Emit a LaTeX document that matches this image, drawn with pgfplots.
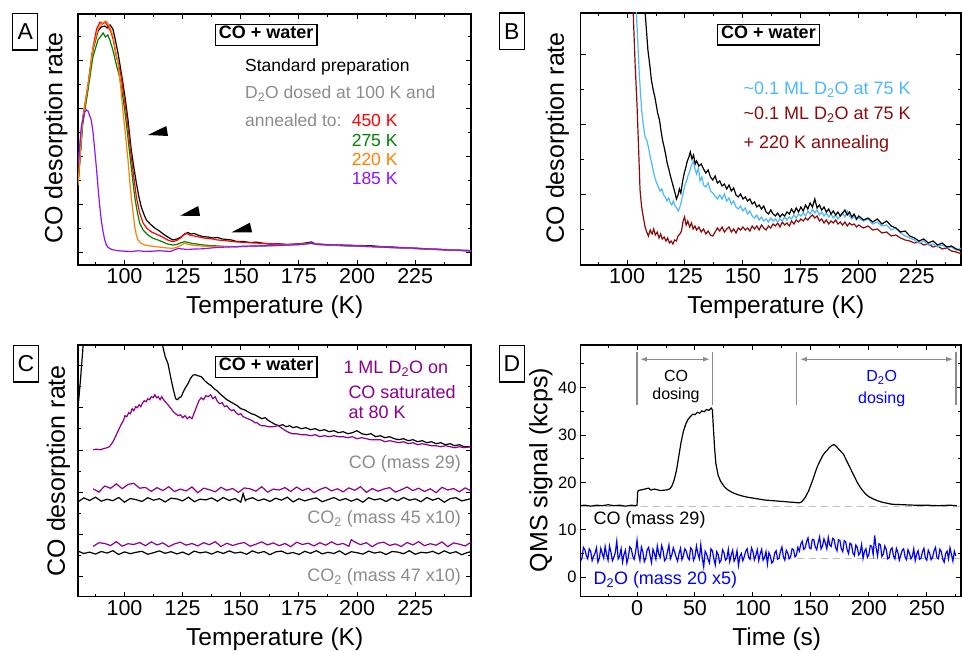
\documentclass[border=0pt]{standalone}
\usepackage{fontspec}
\setmainfont{Liberation Sans}
\usepackage{pgfplots}
\pgfplotsset{compat=1.18}
\usetikzlibrary{arrows.meta}
\definecolor{cgray}{RGB}{140,140,140}
\definecolor{cred}{RGB}{255,0,0}
\definecolor{cgreen}{RGB}{0,128,0}
\definecolor{corange}{RGB}{255,128,0}
\definecolor{cviolet}{RGB}{140,20,255}
\definecolor{clblue}{RGB}{77,184,255}
\definecolor{cdred}{RGB}{140,10,10}
\definecolor{cpurple}{RGB}{140,0,140}
\definecolor{cblue}{RGB}{0,0,255}
\definecolor{dashgray}{RGB}{190,190,190}
\newcommand{\fs}[1]{\fontsize{#1}{#1}\selectfont}
\pgfplotsset{
  panel/.style={
    scale only axis, anchor=south west,
    axis line style={line width=1.4pt},
    every tick/.style={line width=1pt, black},
    major tick length=5pt, minor tick length=3pt,
    tick align=inside,
    ticklabel style={font=\fs{21.5}},
    /pgf/number format/assume math mode=true,
    enlargelimits=false,
  },
  tpd/.style={xtick={100,125,...,225}, minor xtick={87.5,112.5,...,237.5}, yticklabels={}, ymin=0},
}
\tikzset{lab/.style={inner sep=0pt, font=\fs{17.5}},
  pbox/.style={draw, line width=1.3pt, inner sep=0pt, minimum width=25pt, minimum height=36.7pt, font=\fs{23}},
  wbox/.style={draw, line width=1.4pt, inner xsep=3.5pt, inner ysep=6.8pt, text height=0.72em, text depth=0pt, font=\bfseries\fs{18}},
  cl/.style={line width=1.2pt}}
\begin{document}
\begin{tikzpicture}[x=1pt,y=1pt]
\useasboundingbox (0,0) rectangle (962,651);
% ---------------- A ----------------
\begin{axis}[panel, tpd, at={(78pt,386pt)}, width=393pt, height=251pt,
  xmin=80, xmax=249, ymax=251,
  ytick={12,60,108,156,204}, minor ytick={36,84,132,180,228}]
\addplot[cl, black] coordinates {(80,82) (82,145) (84.3,178) (86.4,215) (88.6,234) (90,238) (91.5,239) (92.5,237) (93.8,240) (95,236) (95.8,228) (97.2,212) (98.2,198) (99.3,182) (100.4,165) (101.5,145) (102.2,130) (102.9,115) (104,98) (105.1,82) (106.2,68) (107.2,58) (108.3,51) (109.4,45) (111,41) (113,37) (115,34) (117.3,30) (119,27.5) (120.8,25) (122.5,26) (124.4,28) (125.8,31) (127.3,32.5) (128.5,31) (130,31.5) (131.5,30) (133.9,28.3) (136,28) (138,27) (140,27.5) (142,26) (144,25.5) (146,25) (148.2,23.5) (151,23.5) (154,22.5) (157,22.8) (160,21.5) (162.5,21) (166,21.2) (170,20.5) (174,21) (176.9,21.7) (180.4,23) (182,21) (186,20.5) (191.2,20) (196,19.8) (200,19.5) (205.5,19.3) (210,18.5) (215,18) (219.9,17.3) (225,16.8) (230,16.2) (234.2,15.7) (240,15) (245,14.6) (249,14.3)};
\addplot[cl, cred] coordinates {(80,80) (82,146) (84.3,180) (86.4,217) (88,236) (89.5,243) (90.5,241) (91.5,243) (92.5,240) (94,234) (95.1,226) (96.5,208) (97.5,200) (98.6,188) (99.7,170) (100.8,152) (101.9,130) (102.9,108) (104,88) (105.1,68) (106.5,52) (108,42) (109.5,37) (111.6,33) (113.5,31) (115.5,29) (117.3,26.7) (119,24.5) (120.8,23.3) (122.5,24.5) (124,27) (125.5,30) (126.6,31.7) (128,30) (130,29) (132,28) (134,27) (136,26.5) (138,26) (140,25) (143,24.5) (146,23.5) (149,23) (152,22.5) (156,22) (160,21.5) (165,21) (170,20.5) (175,21) (180,22) (185,20.5) (190,20) (195,19.5) (200,19) (205,18.8) (210,18) (215,17.5) (220,17) (225,16.5) (230,16) (235,15.5) (240,15) (245,14.5) (249,14)};
\addplot[cl, cgreen] coordinates {(80,80) (82,140) (84.3,175) (86.4,208) (88.6,225) (90.8,232) (91.8,228) (92.8,230) (93.7,225) (95,215) (96.5,200) (97.9,188) (99,172) (100.1,155) (101.2,133) (102.2,112) (103.3,90) (104.4,68) (105.5,53) (106.5,42) (108,35) (110.1,30) (112,27) (114.4,25) (116.5,23) (118.5,21) (120.8,20) (122.5,20.5) (124,22) (125.8,23.3) (127,22.7) (129,21.5) (131,21) (133.9,20) (137,19.5) (140,19) (144,18.5) (148.2,18.3) (152,18.5) (156,18.8) (160,19) (162.5,19.3) (166,19.5) (170,20) (174,20.5) (177,21) (180.4,22) (183,20.5) (187,20) (191,19.5) (196,19) (200,18.8) (205,18.5) (210,18) (215,17.5) (220,17) (225,16.5) (230,16) (235,15.5) (240,15) (245,14.6) (249,14.3)};
\addplot[cl, corange] coordinates {(80,80) (82,145) (84.3,180) (86.4,216) (88.6,236) (90.5,242) (92,244) (93,241) (94,236) (95.2,228) (96.2,214) (97.2,202) (98.3,180) (99.3,155) (100.4,130) (101.5,105) (102.2,86) (102.9,68) (103.7,52) (104.4,38) (105.1,30) (105.8,25) (107,22) (108.7,20) (112,18.7) (115.8,17.7) (118.3,17) (120.8,16.7) (122.8,18) (124.5,20) (125.8,21.7) (127.5,20.5) (130,19.5) (134,18.8) (140,18.5) (146,18.3) (152,18.5) (158,19) (164,19.5) (170,20) (175,20.5) (180,21.5) (184,20.5) (190,20) (196,19.3) (202,18.8) (208,18.2) (214,17.6) (220,17) (226,16.5) (232,16) (238,15.4) (244,14.8) (249,14.3)};
\addplot[cl, cviolet] coordinates {(80,100) (81.4,138) (82.9,153) (83.7,155) (84.3,154) (85.7,145) (86.5,132) (87.2,115) (88,95) (88.6,78) (89.3,60) (90,45) (90.8,33) (91.5,25) (92.2,20) (92.9,17.7) (94,16) (95.5,15) (97.2,14.3) (100,13.8) (103,13.5) (105.8,14.2) (109,13.6) (112,13.8) (115,14.3) (119.6,13.5) (123,16.5) (127,15.5) (130,16) (133.9,16.2) (137,17) (140,17.5) (144,18) (148.2,18.3) (152,18.8) (156,19) (160,19.3) (165,19.5) (170,20) (175,20.3) (178,21) (180.4,21.7) (183,20.5) (187,20.3) (191.2,20) (196,19.5) (200,19) (205,18.5) (210,18) (215,17.5) (219.9,17.3) (225,16.7) (230,16.2) (235,15.6) (240,15) (245,14.6) (249,14.3)};
\fill (axis cs:110.1,130) -- (axis cs:118,139) -- (axis cs:118.7,129) -- cycle;
\fill (axis cs:123.9,49.3) -- (axis cs:131.7,59) -- (axis cs:132.5,49) -- cycle;
\fill (axis cs:146.1,32.7) -- (axis cs:153.9,42.3) -- (axis cs:154.9,32.7) -- cycle;
\end{axis}
% ---------------- B ----------------
\begin{axis}[panel, tpd, at={(580.7pt,386pt)}, width=380.3pt, height=252pt,
  xmin=80, xmax=244.1, ymax=252,
  ytick={70,140,210}, minor ytick={35,105,175}]
\addplot[cl, cdred] coordinates {(102.5,262) (103.5,200) (104.3,160) (104.9,122) (105.6,75) (106.3,58) (107,48) (107.8,38) (108.5,33) (109.2,29) (110,35) (110.8,31) (111.5,36) (112.2,30) (113,33) (113.8,27) (114.5,31) (115.2,26) (116,28) (116.8,24) (117.5,27) (118.3,22) (119,24) (119.8,21) (120.5,25) (121.3,24) (122,29) (122.8,31) (123.5,34) (124.2,44) (124.8,48) (125.5,40) (126.2,44) (127,38) (127.8,42) (128.5,36) (129.3,39) (130,35) (131,38) (132,33) (133,36) (134,31) (135,34) (136,30) (137,29) (138,33) (139,37) (140,34) (141,38) (142,33) (143,36) (144,38) (145,33) (146,36) (147,32) (148,37) (149,35) (150,38) (151,35) (152,37) (153,34) (154,39) (155,36) (156,39) (157,35) (158,40) (159,37) (160,35) (161,39) (162,37) (163,41) (164,39) (165,42) (166,38) (167,43) (168,40) (169,42) (170,39) (171,44) (172,41) (173,45) (174,43) (175,46) (176,44) (177,47) (178,45) (179,48) (180,50) (181,47) (182,49) (183,44) (184,46) (185,42) (186,45) (187,41) (188,44) (189,42) (190,45) (191,41) (192,43) (193,40) (194,43) (195,39) (196,42) (197,40) (198,41) (199,38) (200,40) (202,37) (204,39) (206,35) (208,36) (210,32) (212,33) (214,29) (216,30) (218,27) (220,25) (222,24) (224,22) (226,23) (228,20) (230,21) (232,18) (234,19) (236,16) (238,17) (240,14) (242,13) (244.5,11)};
\addplot[cl, clblue] coordinates {(103.8,262) (104.5,230) (105.3,190) (106.3,155) (107,140) (107.8,128) (108.5,125) (109.2,118) (110,108) (110.8,100) (111.5,92) (112.2,86) (112.8,82) (113.5,78) (114.2,74) (115,76) (115.8,70) (116.5,68) (117.2,64) (118,67) (118.7,62) (119.3,60) (120,64) (120.7,59) (121.4,57) (122.1,54) (122.8,58) (123.5,64) (124.2,72) (125,80) (125.7,84) (126.4,90) (127.1,94) (127.8,100) (128.6,104) (129.3,96) (130,91) (130.8,97) (131.5,84) (132.3,88) (133,80) (134,78) (135,82) (136,74) (137,72) (138,69) (139,66) (140,70) (141,66) (142,71) (143,64) (144,67) (145,61) (146,64) (147,58) (148,56) (149,59) (150,54) (151,57) (152,51) (153,54) (154,49) (155,47) (156,50) (157,45) (158,48) (159,44) (160,46) (161,43) (162,47) (163,44) (164,46) (165,43) (166,46) (167,44) (168,48) (169,45) (170,48) (171,46) (172,50) (173,47) (174,51) (175,49) (176,52) (177,49) (178,54) (179,51) (180,56) (181,52) (182,55) (183,50) (184,53) (185,49) (186,52) (187,48) (188,51) (189,47) (190,50) (191,46) (192,49) (193,52) (194,48) (195,54) (196,49) (197,46) (198,49) (199,45) (200,47) (202,44) (204,46) (206,41) (208,43) (210,39) (212,40) (214,35) (216,37) (218,32) (220,29) (222,27) (224,25) (226,22) (228,24) (230,20) (232,21) (234,18) (236,20) (238,17) (240,18) (242,15) (244.5,17)};
\addplot[cl, black] coordinates {(107.5,262) (108.2,240) (109,215) (109.9,198) (110.5,185) (111.3,175) (112,168) (112.6,160) (113.2,152) (114,145) (114.6,135) (115.3,125) (116,118) (116.7,110) (117.3,102) (118,96) (118.6,90) (119.3,84) (120,78) (120.7,72) (121.3,66) (122,70) (122.6,76) (123.2,72) (124,84) (124.7,92) (125.4,98) (126,104) (126.7,108) (127.3,113) (128,106) (128.7,110) (129.4,101) (130,104) (131,99) (132,101) (133,96) (134,92) (135,95) (136,88) (137,85) (138,89) (139,82) (140,84) (141,79) (142,81) (143,76) (144,80) (145,74) (146,77) (147,70) (148,68) (149,71) (150,66) (151,68) (152,64) (153,66) (154,61) (155,63) (156,58) (157,60) (158,56) (159,59) (160,53) (161,51) (162,55) (163,51) (164,49) (165,52) (166,48) (167,51) (168,49) (169,53) (170,51) (171,56) (172,52) (173,57) (174,53) (175,58) (176,54) (177,60) (178,56) (179,62) (180,58) (181,66) (182,57) (183,60) (184,55) (185,58) (186,53) (187,56) (188,51) (189,54) (190,50) (191,53) (192,49) (193,52) (194,55) (195,50) (196,53) (197,48) (198,51) (199,46) (200,49) (202,45) (204,47) (206,43) (208,46) (210,41) (212,44) (214,39) (216,37) (218,33) (220,34) (222,29) (224,27) (226,24) (228,26) (230,22) (232,24) (234,20) (236,22) (238,18) (240,19) (242,16) (244.5,14)};
\end{axis}
% ---------------- C ----------------
\begin{axis}[panel, tpd, at={(78pt,54.3pt)}, width=393pt, height=251.7pt,
  xmin=80, xmax=249, ymax=251.7,
  ytick={20,62.2,104.4,146.6,188.8,231}, minor ytick={41.1,83.3,125.5,167.7,209.9}]
\addplot[cl, black] coordinates {(80,188.7) (81,215) (82,245) (82.5,262) (115.8,262) (116.5,250) (117.5,240) (118.7,233) (119.8,220) (121,207) (122,198) (122.8,197) (123.5,199) (124.4,200) (125.3,205) (126.2,209) (127.3,213) (128.3,218) (129.4,221.5) (130.5,222) (131.5,221) (133,220) (134.5,216) (136,213) (137.3,211) (138.5,208) (139.8,206) (141,203) (142.5,200) (144,197) (145.5,195) (147,193) (148.5,191) (150,188) (151.5,187) (153,185) (154.5,183) (156,182) (157.5,180) (159,178) (160.5,179) (162,176) (163.5,174) (165,172) (166.5,171) (168,172) (169.5,170) (171,171) (172.5,169) (174,170) (176,168) (178,169) (180,167) (182,168) (184,166) (186,167) (188,165) (190,166) (192,164) (194,165) (196,163) (198,164) (200,166) (202,163) (204,162) (206,163) (208,160) (210,161) (212,159) (214,160) (216,158) (218,157) (220,158) (222,156) (224,157) (226,155) (228,156) (230,154) (232,155) (234,153) (236,154) (238,152) (240,153) (242,151) (244,152) (246,150) (249,150)};
\addplot[cl, cpurple] coordinates {(86.5,147) (88,147.5) (89.5,147) (91,148) (92.5,149) (93.5,150) (94.5,153) (95.5,157) (96.5,162) (97.5,167) (98.5,172) (99.5,176) (100.2,181) (101,180) (101.8,184) (102.5,183) (103.3,188) (104,186) (104.8,190) (105.5,189) (106.3,192) (107,190) (107.8,194) (108.5,196) (109.3,195) (110,198) (110.8,197) (111.5,200) (112.3,199) (113,202) (113.8,199) (114.5,200) (115.3,197) (116,200) (116.8,197) (117.5,195) (118.3,193) (119,191) (120,188) (121,185) (122,183) (123,181) (124,182) (125,179) (126,181) (127,178) (128,180) (129,178) (130,184) (131,190) (132,196) (133,199) (134,197) (135,201) (136,200) (137,202) (138,198) (139,200) (140,195) (141,193) (142,194) (143,190) (144,191) (145,188) (146,186) (147,187) (148,184) (149,182) (150,183) (151,180) (152,179) (153,178) (154,177) (155,176) (156,174) (157,174) (158,172) (159,171) (160,171) (162,170) (164,170) (166,171) (168,168) (170,165) (172,163) (174,163) (176,162) (178,162) (180,161) (182,162) (184,160) (186,161) (188,160) (190,161) (192,160) (194,160) (196,159) (198,160) (200,158) (202,159) (204,158) (206,157) (208,157) (210,157) (212,155) (214,156) (216,155) (218,154) (220,155) (222,153) (224,154) (226,152) (228,153) (230,152) (232,151) (234,151) (236,150) (238,151) (240,150) (242,149) (244,150) (246,149) (249,150)};
\addplot[cl, black] coordinates {(80,94.8) (82.5,98.8) (85,96.2) (87.5,99.5) (90,95.5) (92.5,97.5) (95,96) (97.5,99.2) (100,94.5) (102.5,98.2) (105,97) (107.5,95.2) (110,99) (112.5,96.5) (115,98) (117.5,94.8) (120,98.5) (122.5,97.8) (125,95.8) (127.5,99.5) (130,95) (132.5,97.5) (135,96.8) (137.5,98.8) (140,95.5) (142.5,99.2) (145,96.2) (147.5,98.2) (150,94.5) (151,103) (152,96) (152.5,97.2) (155,99) (157.5,96) (160,97.8) (162.5,95.2) (165,98.5) (167.5,96.5) (170,99.5) (172.5,94.8) (175,98) (177.5,95.8) (180,97.5) (182.5,98.8) (185,95) (187.5,97) (190,99.2) (192.5,96.2) (195,98.2) (197.5,95.5) (200,97.8) (202.5,94.5) (205,99) (207.5,96.8) (210,98) (212.5,95.2) (215,98.5) (217.5,96) (220,99.2) (222.5,96.5) (225,97.8) (227.5,95) (230,99.2) (232.5,96.5) (235,98.5) (237.5,94.5) (240,98) (242.5,99) (245,95.8) (247.5,97.2) (249,98)};
\addplot[cl, cpurple] coordinates {(86.5,107.9) (89,104.6) (91.5,110.7) (94,108.4) (96.5,112.8) (99,108) (101.5,112.2) (104,113.4) (106.5,108.5) (109,109.3) (111.5,105.3) (114,109.1) (116.5,106.1) (119,110) (121.5,105.2) (124,107.6) (126.5,105.8) (129,109.7) (131.5,104) (134,108.5) (136.5,107) (139,104.9) (141.5,109.4) (144,106.4) (146.5,108.2) (149,104.3) (151.5,108.8) (154,107.9) (156.5,105.5) (159,110) (161.5,104.6) (164,107.6) (166.5,106.7) (169,109.1) (171.5,105.2) (174,109.7) (176.5,106.1) (179,108.5) (181.5,104) (184,107.3) (186.5,109.4) (189,105.8) (191.5,107.9) (194,104.9) (196.5,108.8) (199,106.4) (201.5,110) (204,104.3) (206.5,108.2) (209,105.5) (211.5,107.6) (214,109.1) (216.5,104.6) (219,107) (221.5,109.7) (224,106.1) (226.5,108.5) (229,105.2) (231.5,107.9) (234,104) (236.5,109.4) (239,106.7) (241.5,108.2) (244,104.9) (246.5,108.8) (249,105.8)};
\addplot[cl, black] coordinates {(80,45.6) (82.5,43.2) (85,44.6) (87.5,42.6) (90,45.2) (92.5,43.6) (95,46) (97.5,42.2) (100,44.8) (102.5,43) (105,44.4) (107.5,45.4) (110,42.4) (112.5,44) (115,45.8) (117.5,43.4) (120,45) (122.5,42.8) (125,44.6) (127.5,42) (130,45.6) (132.5,43.8) (135,44.8) (137.5,42.6) (140,45.2) (142.5,43.2) (145,45.8) (147.5,43.6) (150,44.6) (152.5,42.4) (155,45.8) (157.5,43.6) (160,45.2) (162.5,42) (165,44.8) (167.5,45.6) (170,43) (172.5,44.2) (175,42.2) (177.5,45.4) (180,43.4) (182.5,46) (185,42.8) (187.5,44.4) (190,43.2) (192.5,45.8) (195,42) (197.5,45) (200,44) (202.5,42.6) (205,45.6) (207.5,43.6) (210,44.8) (212.5,42.2) (215,45.2) (217.5,44.6) (220,43) (222.5,46) (225,42.4) (227.5,44.4) (230,43.8) (232.5,45.4) (235,42.8) (237.5,45.8) (240,43.4) (242.5,45) (245,42) (247.5,44.2) (249,45)};
\addplot[cl, cpurple] coordinates {(86.5,50.3) (89,54) (91.5,53.2) (94,51.2) (96.5,55) (99,50.5) (101.5,53) (104,52.2) (106.5,54.2) (109,51) (111.5,54.8) (114,51.8) (116.5,53.8) (119,50) (121.5,52.8) (124,54.5) (126.5,51.5) (129,53.2) (131.5,50.8) (134,54) (136.5,52) (139,55) (141.5,50.2) (144,53.5) (146.5,51.2) (149,53) (151.5,54.2) (154,50.5) (156.5,52.5) (159,54.8) (161.5,51.8) (164,53.8) (166.5,51) (169,53.2) (171.5,50) (174,54.5) (176.5,52.2) (179,53.5) (181.5,50.8) (184,54) (186.5,51.5) (189,54.8) (191.5,52) (194,53.2) (196.5,50.5) (197.5,57) (199,54.8) (201.5,52) (204,54) (206.5,50) (209,53.5) (211.5,54.5) (214,51.2) (216.5,52.8) (219,50.2) (221.5,54.2) (224,51.8) (226.5,55) (229,51) (231.5,53) (234,51.5) (236.5,54.8) (239,50) (241.5,53.8) (244,52.5) (246.5,50.8) (249,54.5)};
\end{axis}
% ---------------- D ----------------
\begin{axis}[panel, at={(580.7pt,54.3pt)}, width=380.3pt, height=251.7pt,
  xmin=-48.6, xmax=279.5, ymin=-4.1, ymax=49,
  xtick={0,50,...,250}, minor xtick={-25,25,...,275},
  ytick={0,10,...,40}, minor ytick={5,15,...,45},
  yticklabel style={font=\fs{16.5}, inner xsep=4pt}]
\addplot[dashgray, line width=1.1pt, dash pattern=on 7pt off 5pt] coordinates {(-48.6,15) (279.5,15)};
\addplot[dashgray, line width=1.1pt, dash pattern=on 7pt off 5pt] coordinates {(-48.6,4) (279.5,4)};
\addplot[cl, black] coordinates {(-50,15.1) (-45,15.2) (-40,15.0) (-35,15.2) (-30,15.1) (-25,15.3) (-20,15.1) (-15,15.2) (-10,15.0) (-5,15.2) (-1,15.1) (0,15.2) (0.5,17.8) (1,18.3) (5,18.5) (10,18.8) (12,18.4) (15,18.6) (20,18.3) (25,18.4) (28,18.6) (30,19.2) (32,20.5) (34,22.5) (36,25.5) (38,28.5) (40,30.8) (42,32.3) (44,33.3) (46,33.9) (48,34.4) (50,34.3) (52,34.8) (54,34.6) (56,35.1) (58,34.9) (60,35.4) (62,35.2) (64,35.7) (65,35.3) (66,31) (67,27) (68,24) (70,21.5) (72,20.3) (75,19.2) (78,18.5) (82,17.9) (86,17.5) (90,17.2) (95,16.9) (100,16.7) (105,16.5) (110,16.3) (115,16.2) (120,16.1) (125,16.0) (130,15.9) (135,15.8) (140,15.7) (142,15.9) (145,16.8) (148,18.2) (150,19.5) (152,20.8) (154,22.3) (156,23.6) (158,24.6) (160,25.6) (162,26.3) (164,26.8) (166,27.4) (168,27.8) (170,28.0) (172,27.6) (174,27.0) (176,26.5) (178,26.0) (180,25.0) (182,24.0) (184,23.0) (186,22.0) (188,21.0) (190,20.0) (192,19.2) (194,18.5) (196,17.9) (198,17.4) (200,17.0) (204,16.5) (208,16.1) (212,15.8) (216,15.6) (220,15.4) (230,15.3) (240,15.2) (250,15.2) (260,15.1) (270,15.2) (276,15.1)};
\addplot[cl, cblue] coordinates {(-50,5.2) (-48.75,3.4) (-47.5,4.1) (-46.25,6.3) (-45,5.8) (-43.75,4.6) (-42.5,3.9) (-41.25,6.0) (-40,5.5) (-38.75,3.5) (-37.5,4.4) (-36.25,5.1) (-35,6.2) (-33.75,3.2) (-32.5,4.0) (-31.25,6.1) (-30,5.0) (-28.75,4.0) (-27.5,6.5) (-26.25,4.8) (-25,3.6) (-23.75,6.6) (-22.5,5.3) (-21.25,3.5) (-20,4.2) (-18.75,5.2) (-17.5,7.6) (-16.25,3.9) (-15,4.5) (-13.75,6.0) (-12.5,3.2) (-11.25,4.8) (-10,5.7) (-8.75,3.0) (-7.5,4.3) (-6.25,6.4) (-5,6.0) (-3.75,4.5) (-2.5,3.8) (-1.25,5.3) (0,7.8) (1.25,4.9) (2.5,3.5) (3.75,6.4) (5,5.4) (6.25,3.3) (7.5,4.0) (8.75,5.8) (10,6.3) (11.25,4.6) (12.5,3.1) (13.75,5.9) (15,5.0) (16.25,3.8) (17.5,6.6) (18.75,4.9) (20,4.2) (21.25,6.7) (22.5,5.6) (23.75,3.5) (25,3.9) (26.25,5.4) (27.5,6.8) (28.75,3.9) (30,4.7) (31.25,6.2) (32.5,5.3) (33.75,4.2) (35,3.4) (36.25,5.0) (37.5,6.1) (38.75,3.7) (40,4.6) (41.25,6.0) (42.5,5.5) (43.75,4.2) (45,3.7) (46.25,6.2) (47.5,5.8) (48.75,3.6) (50,4.4) (51.25,6.6) (52.5,5.0) (53.75,3.9) (55,6.9) (56.25,4.1) (57.5,2.2) (58.75,5.5) (60,4.9) (61.25,3.8) (62.5,3.0) (63.75,6.0) (65,5.6) (66.25,3.9) (67.5,2.6) (68.75,5.4) (70,4.8) (71.25,3.1) (72.5,3.6) (73.75,5.8) (75,5.2) (76.25,3.6) (77.5,4.0) (78.75,5.9) (80,3.3) (81.25,4.7) (82.5,5.7) (83.75,3.4) (85,4.1) (86.25,5.6) (87.5,2.5) (88.75,4.4) (90,5.0) (91.25,3.5) (92.5,4.3) (93.75,5.5) (95,6.0) (96.25,4.2) (97.5,3.8) (98.75,6.2) (100,5.4) (101.25,3.7) (102.5,4.6) (103.75,5.8) (105,3.5) (106.25,4.9) (107.5,5.9) (108.75,3.6) (110,4.2) (111.25,5.4) (112.5,2.8) (113.75,5.2) (115,4.5) (116.25,3.0) (117.5,3.4) (118.75,5.1) (120,5.6) (121.25,3.8) (122.5,4.0) (123.75,5.5) (125,6.4) (126.25,4.3) (127.5,3.6) (128.75,5.7) (130,5.1) (131.25,3.9) (132.5,4.4) (133.75,6.0) (135,5.8) (136.25,4.3) (137.5,4.7) (138.75,6.3) (140,5.5) (141.25,7.0) (142.5,7.6) (143.75,5.9) (145,6.2) (146.25,7.5) (147.5,8.3) (148.75,6.2) (150,6.0) (151.25,8.0) (152.5,7.9) (153.75,6.4) (155,5.8) (156.25,7.3) (157.5,8.5) (158.75,6.0) (160,6.6) (161.25,8.1) (162.5,7.2) (163.75,6.0) (165,8.4) (166.25,6.8) (167.5,6.5) (168.75,8.2) (170,8.0) (171.25,6.3) (172.5,5.6) (173.75,7.9) (175,7.8) (176.25,6.0) (177.5,5.4) (178.75,7.7) (180,7.5) (181.25,5.8) (182.5,5.0) (183.75,7.2) (185,6.9) (186.25,5.1) (187.5,4.6) (188.75,6.8) (190,6.3) (191.25,4.7) (192.5,5.2) (193.75,6.9) (195,4.0) (196.25,5.5) (197.5,6.0) (198.75,4.2) (200,4.8) (201.25,6.7) (202.5,6.5) (203.75,4.8) (205,8.8) (206.25,6.2) (207.5,4.5) (208.75,7.1) (210,6.8) (211.25,4.4) (212.5,4.9) (213.75,6.6) (215,5.9) (216.25,3.9) (217.5,4.1) (218.75,5.8) (220,6.2) (221.25,4.5) (222.5,3.9) (223.75,6.1) (225,5.3) (226.25,3.6) (227.5,4.6) (228.75,5.7) (230,6.0) (231.25,4.3) (232.5,3.7) (233.75,5.8) (235,5.1) (236.25,3.9) (237.5,4.4) (238.75,6.0) (240,3.5) (241.25,4.9) (242.5,5.6) (243.75,3.8) (245,4.0) (246.25,5.4) (247.5,6.1) (248.75,4.0) (250,3.6) (251.25,5.7) (252.5,5.0) (253.75,3.7) (255,4.2) (256.25,5.6) (257.5,6.3) (258.75,4.1) (260,3.9) (261.25,5.9) (262.5,5.4) (263.75,3.8) (265,3.2) (266.25,5.0) (267.5,5.5) (268.75,3.9) (270,6.2) (271.25,4.8) (272.5,3.4) (273.75,5.5) (275,4.5)};
\draw[cgray, line width=1.3pt] (axis cs:0,36.3) -- (axis cs:0,47.5);
\draw[cgray, line width=1.3pt] (axis cs:65.3,36.3) -- (axis cs:65.3,47.5);
\draw[cgray, line width=1.3pt] (axis cs:137.8,36.3) -- (axis cs:137.8,47.5);
\draw[cgray, line width=1.3pt] (axis cs:275.3,36.3) -- (axis cs:275.3,47.5);
\draw[cgray, line width=1.3pt, {Latex[length=7pt,width=5pt]}-{Latex[length=7pt,width=5pt]}] (axis cs:2.5,46) -- (axis cs:63,46);
\draw[cgray, line width=1.3pt, {Latex[length=7pt,width=5pt]}-{Latex[length=7pt,width=5pt]}] (axis cs:140.5,46) -- (axis cs:272.8,46);
\end{axis}
% ---------------- labels ----------------
\node[pbox] at (25.2,619.3) {A};
\node[pbox] at (511.7,619.5) {B};
\node[pbox] at (26,287.2) {C};
\node[pbox] at (512,287.2) {D};
\node[wbox] at (266.2,616) {CO + water};
\node[wbox] at (768.5,616.3) {CO + water};
\node[wbox] at (266.2,283.8) {CO + water};
\foreach \x/\y in {56/513, 557.5/513.2, 58.3/180.2} {\node[rotate=90, inner sep=0pt, font=\fs{25}] at (\x,\y) {CO desorption rate};}
\node[rotate=90, inner sep=0pt, font=\fs{25}] at (540.8,181) {QMS signal (kcps)};
\node[anchor=base, inner sep=0pt, font=\fs{24.5}] at (274.7,337) {Temperature (K)};
\node[anchor=base, inner sep=0pt, font=\fs{24.5}] at (775.8,337) {Temperature (K)};
\node[anchor=base, inner sep=0pt, font=\fs{24.5}] at (274.7,5.8) {Temperature (K)};
\node[anchor=base, inner sep=0pt, font=\fs{24.5}] at (776.7,5.8) {Time (s)};
% A legend
\node[lab, anchor=base west] at (245,579.3) {Standard preparation};
\node[lab, anchor=base west, text=cgray] at (245,552) {D\textsubscript{2}O dosed at 100 K and};
\node[lab, anchor=base west, text=cgray] at (245,524.3) {annealed to:};
\node[lab, anchor=base east, text=cred] at (397.7,524.3) {450 K};
\node[lab, anchor=base east, text=cgreen] at (397.7,504.3) {275 K};
\node[lab, anchor=base east, text=corange] at (397.7,485) {220 K};
\node[lab, anchor=base east, text=cviolet] at (397.7,466) {185 K};
% B legend
\node[lab, font=\fs{18}, anchor=base west, text=clblue] at (743.3,556) {\textasciitilde0.1 ML D\textsubscript{2}O at 75 K};
\node[lab, font=\fs{18}, anchor=base west, text=cdred] at (743.3,531.7) {\textasciitilde0.1 ML D\textsubscript{2}O at 75 K};
\node[lab, font=\fs{18}, anchor=base west, text=cdred] at (743.3,502.7) {+ 220 K annealing};
% C legend
\node[lab, font=\fs{18}, anchor=base west, text=cpurple] at (343.3,277.7) {1 ML D\textsubscript{2}O on};
\node[lab, font=\fs{18}, anchor=base west, text=cpurple] at (348.3,252.7) {CO saturated};
\node[lab, font=\fs{18}, anchor=base west, text=cpurple] at (348.3,232) {at 80 K};
\node[lab, font=\fs{18}, anchor=base east, text=cgray] at (461,182.7) {CO (mass 29)};
\node[lab, font=\fs{18}, anchor=base east, text=cgray] at (461,127.7) {CO\textsubscript{2} (mass 45 x10)};
\node[lab, font=\fs{18}, anchor=base east, text=cgray] at (461,69.3) {CO\textsubscript{2} (mass 47 x10)};
% D legend
\node[lab, font=\fs{18}, anchor=base west] at (593.3,126) {CO (mass 29)};
\node[lab, font=\fs{18}, anchor=base west, text=cblue] at (593.3,66) {D\textsubscript{2}O (mass 20 x5)};
\node[lab, font=\fs{16}, anchor=base] at (676,269.3) {CO};
\node[lab, font=\fs{16}, anchor=base] at (676,251) {dosing};
\node[lab, font=\fs{16}, anchor=base, text=cblue] at (881.7,269.3) {D\textsubscript{2}O};
\node[lab, font=\fs{16}, anchor=base, text=cblue] at (881.7,247) {dosing};
\end{tikzpicture}
\end{document}
